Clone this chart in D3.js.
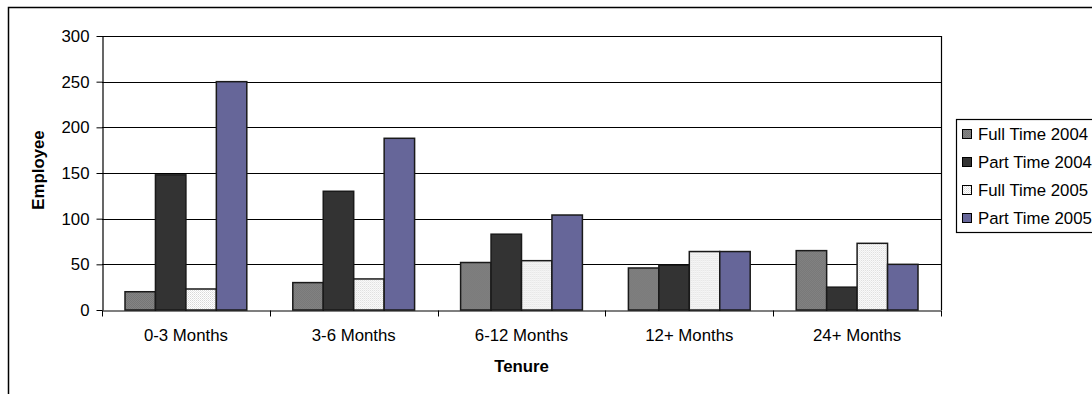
<!DOCTYPE html>
<html>
<head>
<meta charset="utf-8">
<script src="https://cdn.jsdelivr.net/npm/d3@7"></script>
<style>
  body { margin: 0; background: #fff; }
  svg { display: block; font-family: "Liberation Sans", Arial, sans-serif; }
</style>
</head>
<body>
<div id="graph"></div>
<script>
const categories = ["0-3 Months", "3-6 Months", "6-12 Months", "12+ Months", "24+ Months"];
const seriesNames = ["Full Time 2004", "Part Time 2004", "Full Time 2005", "Part Time 2005"];
const fullTime2004 = [20, 30, 52, 46, 65];
const partTime2004 = [148, 130, 83, 49, 25];
const fullTime2005 = [23, 34, 54, 64, 73];
const partTime2005 = [250, 188, 104, 64, 50];
const yTicks = [0, 50, 100, 150, 200, 250, 300];

const series = [fullTime2004, partTime2004, fullTime2005, partTime2005];
const fills = ["url(#patGray)", "#333333", "url(#patLight)", "#666699"];

const W = 1092, H = 394;
const m = {left: 102, top: 36, right: 941, bottom: 310};
const fontSize = 16.8;

var svg = d3.select('#graph').append("svg")
    .attr("width", W)
    .attr("height", H);

// textures for the two "Full Time" series
var defs = svg.append("defs");
var pg = defs.append("pattern").attr("id", "patGray")
    .attr("width", 2).attr("height", 2).attr("patternUnits", "userSpaceOnUse");
pg.append("rect").attr("width", 2).attr("height", 2).attr("fill", "#848484");
pg.append("rect").attr("width", 1).attr("height", 1).attr("fill", "#767676");
pg.append("rect").attr("x", 1).attr("y", 1).attr("width", 1).attr("height", 1).attr("fill", "#767676");
var pl = defs.append("pattern").attr("id", "patLight")
    .attr("width", 2).attr("height", 2).attr("patternUnits", "userSpaceOnUse");
pl.append("rect").attr("width", 2).attr("height", 2).attr("fill", "#ffffff");
pl.append("rect").attr("width", 1).attr("height", 1).attr("fill", "#d8d8d8");
pl.append("rect").attr("x", 1).attr("y", 1).attr("width", 1).attr("height", 1).attr("fill", "#e8e8e8");

// outer chart border
svg.append("rect")
    .attr("x", 8.5).attr("y", 7.5)
    .attr("width", W + 20).attr("height", H + 20)
    .attr("fill", "none").attr("stroke", "#000").attr("stroke-width", 1.5);

var x = d3.scaleBand().domain(categories).range([m.left, m.right]).paddingInner(0).paddingOuter(0);
var xs = d3.scaleBand().domain(d3.range(series.length)).range([23, x.bandwidth() - 23]);
var y = d3.scaleLinear().domain([0, 300]).range([m.bottom, m.top]);

// gridlines
svg.append("g").selectAll("line")
    .data(yTicks.filter(d => d > 0))
    .enter().append("line")
    .attr("x1", m.left).attr("x2", m.right)
    .attr("y1", d => Math.round(y(d)) + 0.5).attr("y2", d => Math.round(y(d)) + 0.5)
    .attr("stroke", "#000").attr("stroke-width", 1.2);

// right border of plot
svg.append("line")
    .attr("x1", m.right + 0.5).attr("x2", m.right + 0.5)
    .attr("y1", m.top).attr("y2", m.bottom)
    .attr("stroke", "#000").attr("stroke-width", 1.2);

// bars
var groups = svg.append("g").selectAll("g")
    .data(categories)
    .enter().append("g")
    .attr("transform", d => "translate(" + x(d) + ",0)");
groups.selectAll("rect")
    .data((c, ci) => series.map((s, si) => ({si: si, v: s[ci]})))
    .enter().append("rect")
    .attr("x", d => xs(d.si))
    .attr("width", xs.bandwidth())
    .attr("y", d => y(d.v))
    .attr("height", d => y(0) - y(d.v))
    .attr("fill", d => fills[d.si])
    .attr("stroke", "#1a1a1a")
    .attr("stroke-width", 1.5);

// y axis
var yAxis = svg.append("g")
    .attr("transform", "translate(" + (m.left + 0.5) + ",0)")
    .call(d3.axisLeft(y).tickValues(yTicks).tickSize(6).tickSizeOuter(0).tickPadding(7));
yAxis.selectAll("text").attr("font-size", fontSize).attr("font-family", "Liberation Sans, Arial").attr("fill", "#000");
yAxis.selectAll("line").attr("stroke", "#000");
yAxis.select(".domain").attr("stroke", "#000").attr("stroke-width", 1.2);

// x axis
var xAxis = svg.append("g")
    .attr("transform", "translate(0," + (m.bottom + 0.5) + ")")
    .call(d3.axisBottom(x).tickSize(0).tickPadding(19));
xAxis.selectAll("text").attr("font-size", fontSize).attr("font-family", "Liberation Sans, Arial").attr("fill", "#000");
xAxis.select(".domain").attr("stroke", "#000").attr("stroke-width", 1.2);
// category separator ticks
xAxis.append("g").selectAll("line")
    .data(categories.concat(["end"]))
    .enter().append("line")
    .attr("x1", (d, i) => Math.round(m.left + i * x.bandwidth()) + 0.5)
    .attr("x2", (d, i) => Math.round(m.left + i * x.bandwidth()) + 0.5)
    .attr("y1", 0).attr("y2", 6)
    .attr("stroke", "#000");

// axis titles
svg.append("text")
    .attr("x", (m.left + m.right) / 2).attr("y", 372)
    .attr("text-anchor", "middle")
    .attr("font-size", fontSize).attr("font-weight", "bold")
    .text("Tenure");
svg.append("text")
    .attr("transform", "translate(44,170) rotate(-90)")
    .attr("text-anchor", "middle")
    .attr("font-size", fontSize).attr("font-weight", "bold")
    .text("Employee");

// legend
var lg = svg.append("g").attr("transform", "translate(956,119)");
lg.append("rect")
    .attr("x", 0.5).attr("y", 0.5).attr("width", 200).attr("height", 113)
    .attr("fill", "#fff").attr("stroke", "#000").attr("stroke-width", 1.2);
var items = lg.selectAll("g.item")
    .data(seriesNames)
    .enter().append("g")
    .attr("class", "item")
    .attr("transform", (d, i) => "translate(0," + (15 + i * 28) + ")");
items.append("rect")
    .attr("x", 6.5).attr("y", -4.5).attr("width", 9).attr("height", 9)
    .attr("fill", (d, i) => fills[i])
    .attr("stroke", "#000");
items.append("text")
    .attr("x", 22).attr("y", 6)
    .attr("font-size", fontSize)
    .text(d => d);
</script>
</body>
</html>
